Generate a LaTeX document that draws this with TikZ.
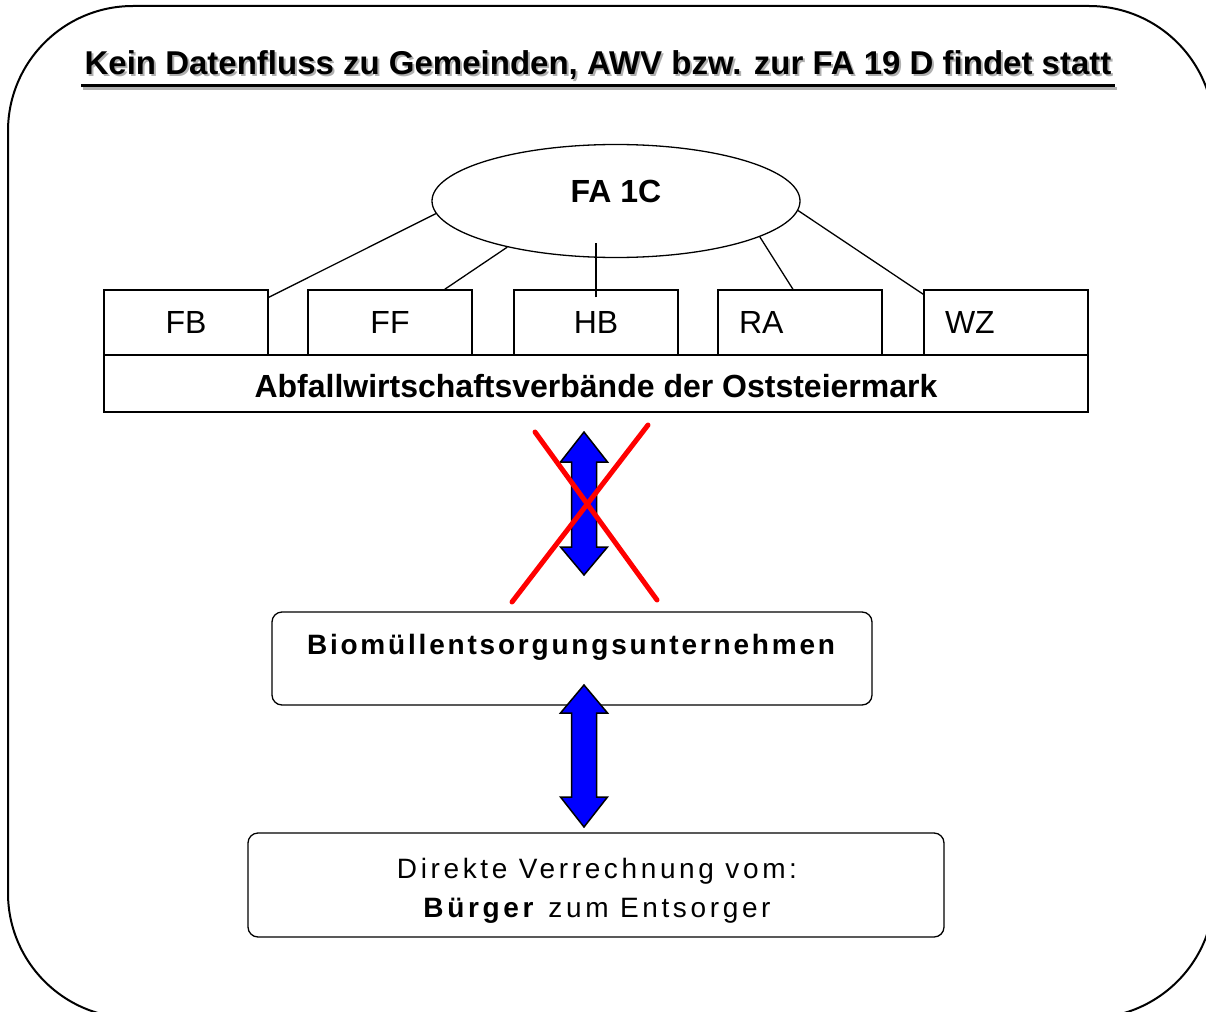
\documentclass[tikz,border=0pt]{standalone}
\usepackage{fontspec}
\setmainfont{Liberation Sans}
\usetikzlibrary{shapes.geometric}
\definecolor{arrowblue}{RGB}{0,0,255}
\definecolor{shadowgray}{RGB}{175,175,175}
\tikzset{
  frame/.style={draw, line width=2pt},
  box/.style={draw, line width=1.3pt, minimum width=164pt, minimum height=65pt, inner sep=0pt, font=\fontsize{32}{38}\selectfont},
  leftbox/.style={box, text width=122pt, inner xsep=21pt, align=left},
  bar/.style={draw, line width=1.3pt, minimum width=984pt, minimum height=57pt, inner sep=0pt},
  bartext/.style={font=\fontsize{32}{38}\selectfont\bfseries},
  oval/.style={draw, ellipse, line width=1.3pt, minimum width=368pt, minimum height=113pt, inner sep=0pt},
  roundbox/.style={draw, line width=1.3pt, rounded corners=10pt, inner sep=0pt},
  link/.style={draw, line width=1.3pt},
  dblarrow/.style={draw=black, fill=arrowblue, line width=1.5pt, line join=miter},
  cross/.style={draw=red, line width=5pt, line cap=round},
  titlefont/.style={font=\fontsize{33}{38}\selectfont\bfseries},
}
\begin{document}
\begin{tikzpicture}[x=1pt,y=-1pt]
\useasboundingbox (0,0) rectangle (1206,1011);
\begin{scope}
  \clip (0,0) rectangle (1206,1011);
  \draw[frame, rounded corners=125pt] (8,6) rectangle (1214,1018);
\end{scope}

% title with shadow
\node[titlefont, text=shadowgray, anchor=base] (titleshadow) at (600,77) {Kein Datenfluss zu Gemeinden, AWV bzw. zur FA 19 D findet statt};
\node[titlefont, anchor=base] (title) at (598,75) {Kein Datenfluss zu Gemeinden, AWV bzw. zur FA 19 D findet statt};
\draw[draw=shadowgray, line width=3pt] ([shift={(2pt,-13.5pt)}]title.base west) -- ([shift={(2pt,-13.5pt)}]title.base east);
\draw[line width=3pt] ([yshift=-11pt]title.base west) -- ([yshift=-11pt]title.base east);

% FA 1C
\node[oval] (FA) at (616,201) {};
\node[font=\fontsize{32}{38}\selectfont\bfseries] (FAtext) at (616,191) {FA 1C};

% boxes
\node[box] (FB) at (186,322.5) {FB};
\node[box] (FF) at (390,322.5) {FF};
\node[box] (HB) at (596,322.5) {HB};
\node[leftbox] (RA) at (800,322.5) {RA};
\node[leftbox] (WZ) at (1006,322.5) {WZ};
\node[bar] (AWV) at (596,383.5) {};
\node[bartext] (AWVtext) at (596,386.5) {Abfallwirtschaftsverbände der Oststeiermark};

% links
\draw[link] ([yshift=-8pt]FB.north east) -- (FA.184);
\draw[link] ([xshift=-28pt]FF.north east) -- (FA.203);
\draw[link] ([yshift=-8pt]HB.north) -- ([yshift=15pt]HB.north |- FA.south);
\draw[link] ([xshift=-7pt]RA.north) -- (FA.346);
\draw[link] ([yshift=-5pt]WZ.north west) -- (FA.357);

% Biomuell box
\node[roundbox, minimum width=600pt, minimum height=93pt] (BIO) at (572,658.5) {};
\node[font=\fontsize{28}{34}\selectfont\bfseries\addfontfeature{LetterSpace=10}] (BIOtext) at (571,647) {Biomüllentsorgungsunternehmen};

% Buerger box
\node[roundbox, minimum width=696pt, minimum height=104pt] (BUE) at (596,885) {};
\node[align=center, font=\fontsize{28}{39}\selectfont\addfontfeature{LetterSpace=13}] (BUEtext) at (597,891) {Direkte Verrechnung vom:\\ \textbf{Bürger} zum Entsorger};

% arrows
\coordinate (a1top) at (584,432);
\coordinate (a1bot) at (584,575);
\draw[dblarrow] (a1top) -- ++(23.5,30) -- ++(-11,0) -- ++(0,85) -- ++(11,0) -- (a1bot) -- ++(-23.5,-28) -- ++(11,0) -- ++(0,-85) -- ++(-11,0) -- cycle;
\coordinate (a2top) at (584,685);
\coordinate (a2bot) at (584,827);
\draw[dblarrow] (a2top) -- ++(23.5,28) -- ++(-11,0) -- ++(0,84) -- ++(11,0) -- (a2bot) -- ++(-23.5,-30) -- ++(11,0) -- ++(0,-84) -- ++(-11,0) -- cycle;

% red cross
\coordinate (x1a) at (535,432);
\coordinate (x1b) at (657,600);
\coordinate (x2a) at (648,425);
\coordinate (x2b) at (512,602);
\draw[cross] (x1a) -- (x1b);
\draw[cross] (x2a) -- (x2b);
\end{tikzpicture}
\end{document}
